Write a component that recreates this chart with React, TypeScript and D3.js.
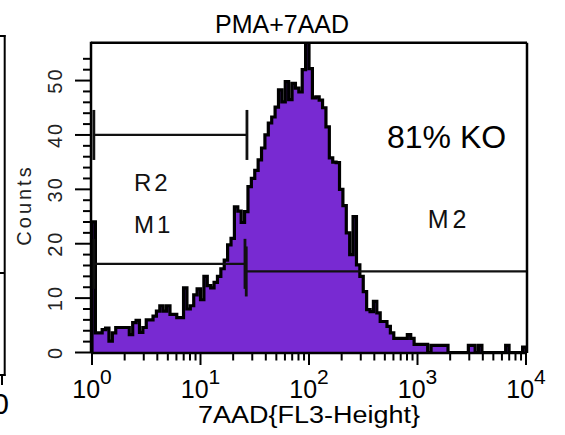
import React from "react";
import * as d3 from "d3";

// ---- data ----
const binsPerDecade = 32;
const counts: number[] = [
  24, 3.6, 3.6, 4.2, 4.5, 2.1, 3.6, 4.6, 4.6, 4.6,
  4.6, 3.3, 5.5, 5.9, 3.7, 4.6, 6, 6, 6.7, 7.6,
  8.6, 7.6, 8.6, 7, 7, 6.4, 6.4, 11.9, 8, 8.6,
  10.6, 11.7, 9.7, 14, 12.3, 11.9, 12.9, 14, 15.4, 17,
  19.8, 21, 26.8, 26, 23.9, 25.9, 30.5, 32, 33.5, 35.4,
  37.6, 40, 42.2, 43.3, 45.1, 48.3, 46.1, 49.8, 46.5, 49.5,
  48.6, 47.9, 52, 60, 52.2, 46.8, 47, 46.4, 45, 41.5,
  35.8, 35, 34.9, 30, 27, 22, 18, 25, 16.1, 14,
  11.2, 7.9, 7.5, 9.4, 7.3, 5.7, 5.7, 4.8, 3.6, 2.6,
  2.6, 2.6, 2.6, 3.3, 2.6, 1.5, 1.5, 1.5, 1.5, 0,
  1.3, 1.3, 1.3, 1.3, 1.3, 0, 0, 0, 0, 0,
  0, 1.3, 1.3, 0, 1.3, 0, 0, 0, 0, 0,
  0, 0, 1.3, 0, 0, 0, 0, 1,
];
const xMajorTicks = [1, 10, 100, 1000, 10000];
const xExponents = ["0", "1", "2", "3", "4"];
const yMajorTicks = [0, 10, 20, 30, 40, 50];
const markerNames = ["R2", "M1", "M2"];
const markerStart = [1.04, 1.04, 26.4];
const markerEnd = [26.8, 25.7, 10000];
const markerLevel = [40, 16.3, 14.9];

const title = "PMA+7AAD";
const xTitle = "7AAD{FL3-Height}";
const yTitle = "Counts";
const note = "81% KO";

const FONT = "'Liberation Sans', Arial, Helvetica, sans-serif";
const PURPLE = "#782ad2";

export default function App() {
  const x = d3.scaleLog().domain([1, 10000]).range([92, 526]);
  const y = d3.scaleLinear().domain([0, 57]).range([352.5, 42.5]);

  const edges = d3.range(counts.length + 1).map((i) => Math.pow(10, i / binsPerDecade));
  const pts: [number, number][] = counts.map((c, i) => [edges[i], c]);
  pts.push([edges[counts.length], counts[counts.length - 1]]);

  const area = d3
    .area<[number, number]>()
    .x((d) => x(d[0]))
    .y0(y(0))
    .y1((d) => y(d[1]))
    .curve(d3.curveStepAfter);
  const linePts: [number, number][] = [[edges[0], 0], ...pts, [edges[counts.length], 0]];
  const line = d3
    .line<[number, number]>()
    .x((d) => x(d[0]))
    .y((d) => y(d[1]))
    .curve(d3.curveStepAfter);

  const minorX: number[] = [];
  for (let e = 0; e < 4; e++) for (let m = 2; m <= 9; m++) minorX.push(m * Math.pow(10, e));
  const minorY = d3.range(0, 56, 2).filter((v) => v % 10 !== 0);

  const left = 91, right = 527, top = 42.7, bottom = 353;
  const tickHalf = 25;

  return (
    <svg
      width={565}
      height={435}
      style={{ position: "absolute", left: 0, top: 0, background: "#fff" }}
      fontFamily={FONT}
    >
      <defs>
        <clipPath id="plotClip">
          <rect x={left} y={top} width={right - left} height={bottom - top + 3} />
        </clipPath>
      </defs>
      <rect width={565} height={435} fill="#fff" />

      {/* partial neighbouring panel on the far left */}
      <g stroke="#000" strokeWidth={2} fill="none">
        <line x1={0} y1={36} x2={5.5} y2={36} />
        <line x1={4.7} y1={35} x2={4.7} y2={376} />
        <line x1={0} y1={273} x2={4.7} y2={273} />
        <line x1={0} y1={375} x2={5.5} y2={375} />
        <line x1={2} y1={375} x2={2} y2={385} />
      </g>
      <text x={9} y={414} fontSize={30} textAnchor="end" fill="#000">0</text>

      {/* histogram */}
      <g clipPath="url(#plotClip)">
        <path d={area(pts) || ""} fill={PURPLE} />
        <path d={line(linePts) || ""} fill="none" stroke="#000" strokeWidth={3.2} strokeLinejoin="miter" />
      </g>

      {/* markers */}
      <g stroke="#111">
        {markerNames.map((n, i) => (
          <g key={n}>
            <line x1={x(markerStart[i])} x2={x(markerEnd[i])} y1={y(markerLevel[i])} y2={y(markerLevel[i])} strokeWidth={2.2} />
            <line x1={x(markerStart[i])} x2={x(markerStart[i])} y1={y(markerLevel[i]) - tickHalf} y2={y(markerLevel[i]) + tickHalf} strokeWidth={2.8} />
            {markerEnd[i] < 10000 && (
              <line x1={x(markerEnd[i])} x2={x(markerEnd[i])} y1={y(markerLevel[i]) - tickHalf} y2={y(markerLevel[i]) + tickHalf} strokeWidth={2.8} />
            )}
          </g>
        ))}
      </g>

      {/* frame */}
      <g stroke="#000" strokeWidth={2.5} fill="none">
        <line x1={left} y1={top} x2={right} y2={top} />
        <line x1={right} y1={top} x2={right} y2={bottom} />
        <line x1={left} y1={bottom} x2={right} y2={bottom} />
        <line x1={left} y1={top - 1} x2={left} y2={bottom} />
      </g>

      {/* x ticks */}
      <g stroke="#000" strokeWidth={2}>
        {xMajorTicks.map((v) => (
          <line key={"M" + v} x1={x(v)} x2={x(v)} y1={bottom} y2={bottom + 12} />
        ))}
        {minorX.map((v) => (
          <line key={"m" + v} x1={x(v)} x2={x(v)} y1={bottom} y2={bottom + 7.5} />
        ))}
      </g>
      {xMajorTicks.map((v, i) => (
        <text key={"xl" + v} x={x(v)} y={398} textAnchor="middle" fontSize={25} fill="#000">
          10<tspan dy={-14} fontSize={21}>{xExponents[i]}</tspan>
        </text>
      ))}

      {/* y ticks */}
      <g stroke="#000" strokeWidth={2}>
        {yMajorTicks.map((v) => (
          <line key={"yM" + v} x1={left - 16} x2={left} y1={y(v)} y2={y(v)} />
        ))}
        {minorY.map((v) => (
          <line key={"ym" + v} x1={left - 8} x2={left} y1={y(v)} y2={y(v)} />
        ))}
      </g>
      {yMajorTicks.map((v) => (
        <text
          key={"yl" + v}
          transform={`translate(62,${y(v)}) rotate(-90)`}
          textAnchor="middle"
          fontSize={20}
          letterSpacing={2}
          fill="#222"
        >
          {v}
        </text>
      ))}

      {/* titles */}
      <text x={282} y={33} textAnchor="middle" fontSize={25} fill="#000">{title}</text>
      <text x={309} y={423} textAnchor="middle" fontSize={23} textLength={222} lengthAdjust="spacingAndGlyphs" fill="#000">{xTitle}</text>
      <text transform="translate(31,205) rotate(-90)" textAnchor="middle" fontSize={20} letterSpacing={3} fill="#222">{yTitle}</text>
      <text x={387} y={148} fontSize={32} fill="#000">{note}</text>

      {/* marker labels */}
      <text x={134} y={190.7} fontSize={24} letterSpacing={3} fill="#111">R2</text>
      <text x={134} y={232.7} fontSize={24} letterSpacing={3} fill="#111">M1</text>
      <text x={427.7} y={228.3} fontSize={25} letterSpacing={4} fill="#111">M2</text>
    </svg>
  );
}
